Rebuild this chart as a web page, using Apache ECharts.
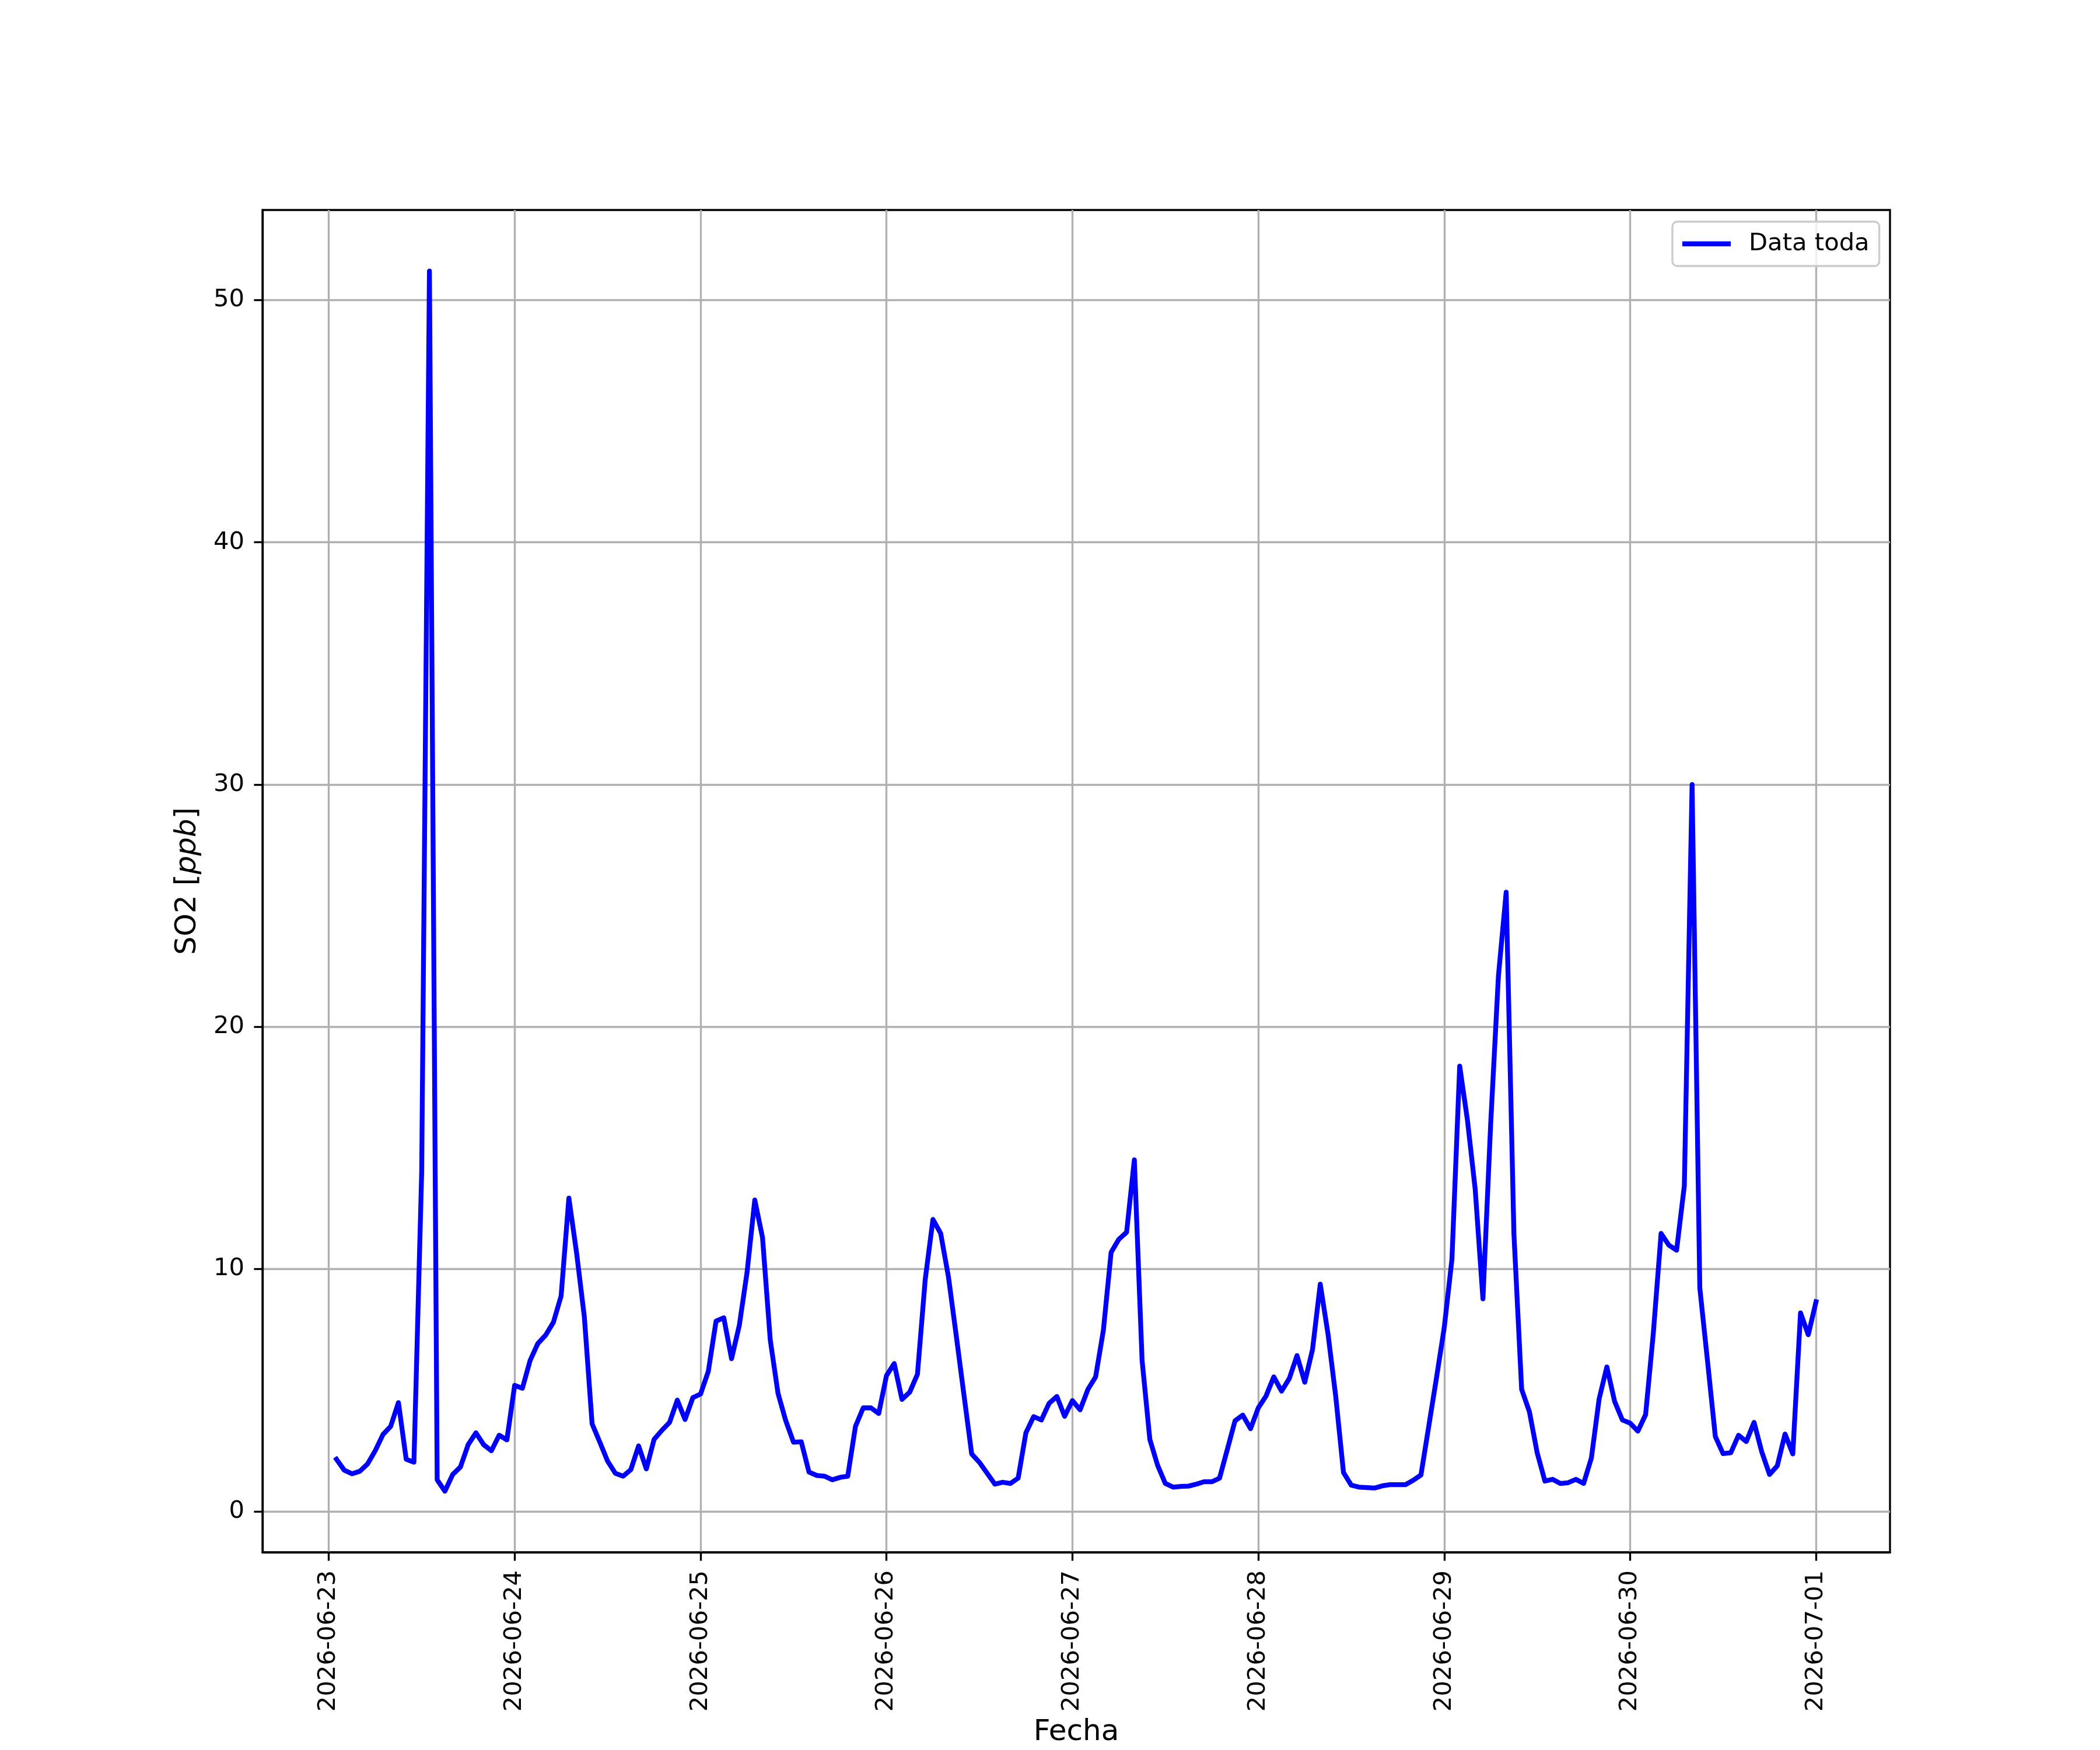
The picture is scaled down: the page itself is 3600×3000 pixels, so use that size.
<!DOCTYPE html>
<html>
<head>
<meta charset="utf-8">
<script src="https://cdn.jsdelivr.net/npm/echarts@6/dist/echarts.min.js"></script>
<style>
html,body{margin:0;padding:0;background:#ffffff;}
#chart{width:3600px;height:3000px;}
</style>
</head>
<body>
<div id="chart"></div>
<script>
// Hourly SO2 values [ppb], 01:00 of each day through 00:00 of the next day
const so2_0623 = [2.15, 1.70, 1.55, 1.65, 1.95, 2.50, 3.17, 3.51, 4.49, 2.15, 2.03, 14.0, 51.2, 1.30, 0.83, 1.52, 1.83, 2.75, 3.24, 2.75, 2.50, 3.14, 2.95, 5.20];
const so2_0624 = [5.08, 6.23, 6.93, 7.27, 7.80, 8.89, 12.93, 10.66, 8.02, 3.61, 2.85, 2.07, 1.57, 1.45, 1.72, 2.70, 1.75, 2.97, 3.34, 3.67, 4.59, 3.79, 4.69, 4.84];
const so2_0625 = [5.78, 7.85, 7.99, 6.30, 7.67, 9.86, 12.85, 11.30, 7.07, 4.87, 3.74, 2.85, 2.87, 1.62, 1.48, 1.45, 1.30, 1.40, 1.45, 3.51, 4.27, 4.27, 4.04, 5.60];
const so2_0626 = [6.10, 4.62, 4.92, 5.66, 9.56, 12.05, 11.47, 9.68, 7.27, 4.81, 2.37, 2.02, 1.57, 1.12, 1.20, 1.15, 1.37, 3.24, 3.91, 3.77, 4.46, 4.74, 3.92, 4.57];
const so2_0627 = [4.19, 5.03, 5.55, 7.47, 10.69, 11.23, 11.52, 14.51, 6.23, 2.97, 1.90, 1.15, 1.00, 1.03, 1.04, 1.12, 1.22, 1.22, 1.37, 2.55, 3.74, 3.97, 3.41, 4.27];
const so2_0628 = [4.76, 5.55, 4.96, 5.48, 6.43, 5.33, 6.68, 9.38, 7.32, 4.74, 1.60, 1.08, 1.00, 0.98, 0.96, 1.05, 1.10, 1.10, 1.10, 1.28, 1.50, 3.50, 5.50, 7.57];
const so2_0629 = [10.41, 18.38, 16.15, 13.30, 8.77, 16.00, 22.10, 25.56, 11.45, 5.03, 4.11, 2.42, 1.25, 1.32, 1.15, 1.18, 1.32, 1.15, 2.20, 4.64, 5.96, 4.54, 3.77, 3.64];
const so2_0630 = [3.31, 3.99, 7.37, 11.47, 10.99, 10.78, 13.44, 30.00, 9.21, 6.18, 3.09, 2.38, 2.42, 3.14, 2.88, 3.67, 2.45, 1.52, 1.88, 3.19, 2.37, 8.19, 7.29, 8.65];

const dayBlocks = [so2_0623, so2_0624, so2_0625, so2_0626, so2_0627, so2_0628, so2_0629, so2_0630];
const tickLabels = ['2026-06-23','2026-06-24','2026-06-25','2026-06-26','2026-06-27','2026-06-28','2026-06-29','2026-06-30','2026-07-01'];
const yTicks = [0, 10, 20, 30, 40, 50];
const seriesName = 'Data toda';

// x = hours since 2026-06-23 00:00
const seriesData = [];
dayBlocks.forEach((block, d) => {
  block.forEach((v, j) => { seriesData.push([d * 24 + j + 1, v]); });
});
const xTickHours = tickLabels.map((_, i) => i * 24);

const FONT = 'DejaVu Sans';
const LINE_W = 8.3;
const chart = echarts.init(document.getElementById('chart'), null, {renderer: 'canvas', width: 3600, height: 3000});
chart.setOption({
  animation: false,
  backgroundColor: '#ffffff',
  textStyle: {fontFamily: FONT},
  grid: {
    left: 450, right: 360, top: 360, bottom: 330,
    show: true, borderColor: '#000000', borderWidth: 3.33, backgroundColor: 'transparent'
  },
  legend: {
    show: true,
    data: [{name: seriesName, icon: 'rect'}],
    left: 2867, top: 380,
    padding: [17, 17, 17, 17],
    itemWidth: 83, itemHeight: LINE_W,
    itemStyle: {color: '#0000ff', borderWidth: 0},
    backgroundColor: 'rgba(255,255,255,0.8)',
    borderColor: '#cccccc', borderWidth: 3.33, borderRadius: 8,
    textStyle: {fontSize: 41.7, color: '#000000', fontFamily: FONT, padding: [0, 0, 0, 26]}
  },
  xAxis: {
    type: 'value',
    min: -8.55, max: 201.55,
    axisLine: {show: true, onZero: false, lineStyle: {color: '#000000', width: 3.33}},
    axisTick: {show: true, customValues: xTickHours, length: 14.6, lineStyle: {color: '#000000', width: 3.33}},
    axisLabel: {
      customValues: xTickHours, rotate: 90, margin: 31, fontSize: 41.7, color: '#000000', fontFamily: FONT,
      formatter: v => tickLabels[Math.round(v / 24)]
    },
    splitLine: {show: true, lineStyle: {color: '#b0b0b0', width: 3.33}},
    name: 'Fecha', nameLocation: 'middle', nameGap: 284,
    nameTextStyle: {fontSize: 50, color: '#000000', fontFamily: FONT}
  },
  yAxis: {
    type: 'value',
    min: -1.69, max: 53.72,
    axisLine: {show: true, onZero: false, lineStyle: {color: '#000000', width: 3.33}},
    axisTick: {show: true, customValues: yTicks, length: 14.6, lineStyle: {color: '#000000', width: 3.33}},
    axisLabel: {customValues: yTicks, margin: 31, fontSize: 41.7, color: '#000000', fontFamily: FONT},
    splitLine: {show: true, lineStyle: {color: '#b0b0b0', width: 3.33}},
    name: '{n|SO2 [}{i|ppb}{n|]}', nameLocation: 'middle', nameGap: 103, nameRotate: 90,
    nameTextStyle: {
      fontSize: 50, color: '#000000', fontFamily: FONT,
      rich: {
        n: {fontSize: 50, color: '#000000', fontFamily: FONT},
        i: {fontSize: 50, color: '#000000', fontFamily: FONT, fontStyle: 'italic'}
      }
    }
  },
  series: [{
    name: seriesName,
    type: 'line',
    data: seriesData,
    symbol: 'none',
    showSymbol: false,
    color: '#0000ff',
    lineStyle: {color: '#0000ff', width: LINE_W, join: 'round', cap: 'square'},
    clip: true
  }]
});
</script>
</body>
</html>
